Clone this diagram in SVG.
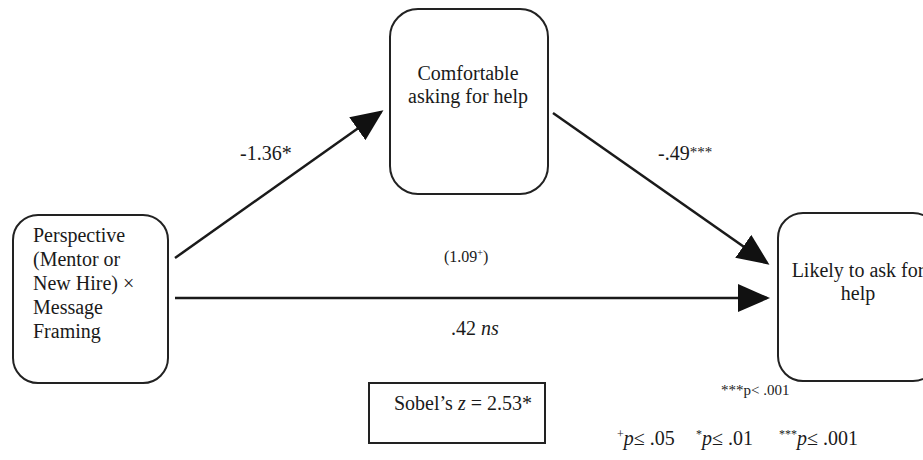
<svg xmlns="http://www.w3.org/2000/svg" width="923" height="460" viewBox="0 0 923 460">
<defs>
<style>
.box{fill:#fff;stroke:#222;stroke-width:2}
text{font-family:'Liberation Serif','Times New Roman',Times,serif;fill:#1a1a1a}
.edge{stroke:#1a1a1a;stroke-width:2.5;fill:none}
</style>
<marker id="ah" markerUnits="userSpaceOnUse" markerWidth="32" markerHeight="28" viewBox="0 0 32 28" refX="29" refY="14" orient="auto">
<path d="M0,0 L32,14 L0,28 Z" fill="#111"/>
</marker>
</defs>
<rect width="923" height="460" fill="#fff"/>
<g id="connectors" font-family="'Liberation Serif', serif">
<line class="edge" x1="175" y1="258" x2="381" y2="112" marker-end="url(#ah)"/>
<line class="edge" x1="553" y1="113" x2="767" y2="263" marker-end="url(#ah)"/>
<line class="edge" x1="175" y1="298" x2="767" y2="298" marker-end="url(#ah)"/>
<text x="240" y="160" font-size="20">-1.36*</text>
<text x="658" y="160" font-size="20">-.49<tspan font-size="15" dy="-3">***</tspan></text>
<text x="444" y="262" font-size="16">(1.09<tspan font-size="10" dy="-6">+</tspan><tspan dy="6">)</tspan></text>
<text x="451" y="335" font-size="20">.42 <tspan font-style="italic">ns</tspan></text>
</g>
<g id="node-perspective" font-family="'Liberation Serif', serif">
<rect class="box" x="13" y="215" width="155" height="168" rx="25"/>
<text font-size="20" x="33" y="242">Perspective</text>
<text font-size="20" x="33" y="266">(Mentor or</text>
<text font-size="20" x="33" y="290">New Hire) ×</text>
<text font-size="20" x="33" y="314">Message</text>
<text font-size="20" x="33" y="338">Framing</text>
</g>
<g id="node-comfortable" font-family="'Liberation Serif', serif">
<rect class="box" x="390" y="9" width="158" height="185" rx="28"/>
<text font-size="20" x="468" y="80" text-anchor="middle">Comfortable</text>
<text font-size="20" x="468" y="103" text-anchor="middle">asking for help</text>
</g>
<g id="node-likely" font-family="'Liberation Serif', serif">
<rect class="box" x="778" y="213" width="160" height="168" rx="25"/>
<text font-size="20" x="858" y="277" text-anchor="middle">Likely to ask for</text>
<text font-size="20" x="858" y="300" text-anchor="middle">help</text>
</g>
<g id="node-sobel" font-family="'Liberation Serif', serif">
<rect x="369" y="383" width="176" height="60" fill="#fff" stroke="#222" stroke-width="2"/>
<text font-size="20" x="394" y="410">Sobel’s <tspan font-style="italic">z</tspan> = 2.53*</text>
</g>
<g id="notes" font-family="'Liberation Serif', serif">
<text font-size="15" x="721" y="395">***p&lt; .001</text>
<text font-size="20" x="617" y="445"><tspan font-size="12" dy="-7">+</tspan><tspan dy="7" font-style="italic">p</tspan>≤ .05</text>
<text font-size="20" x="696" y="445"><tspan font-size="12" dy="-7">*</tspan><tspan dy="7" font-style="italic">p</tspan>≤ .01</text>
<text font-size="20" x="779" y="445"><tspan font-size="12" dy="-7">***</tspan><tspan dy="7" font-style="italic">p</tspan>≤ .001</text>
</g>
</svg>
